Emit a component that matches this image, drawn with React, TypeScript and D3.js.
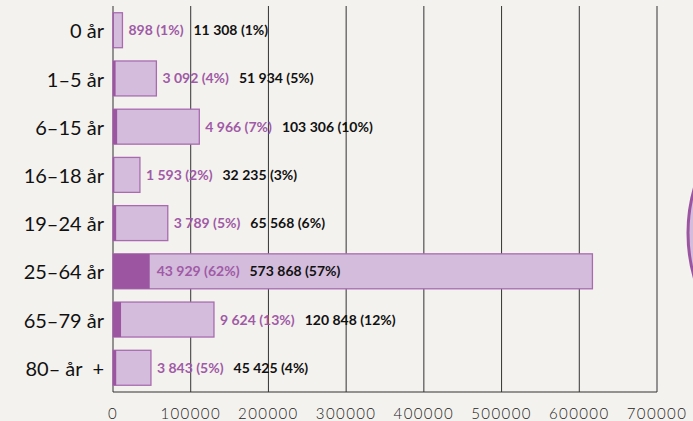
import React from "react";
import * as d3 from "d3";

const categories = ["0 år", "1–5 år", "6–15 år", "16–18 år", "19–24 år", "25–64 år", "65–79 år", "80– år  +"];
const totals = [11308, 51934, 103306, 32235, 65568, 573868, 120848, 45425];
const totalPct = [1, 5, 10, 3, 6, 57, 12, 4];
const subset = [898, 3092, 4966, 1593, 3789, 43929, 9624, 3843];
const subsetPct = [1, 4, 7, 2, 5, 62, 13, 5];
const ticks = [0, 100000, 200000, 300000, 400000, 500000, 600000, 700000];

const W = 693;
const H = 421;
const margin = { top: 6, right: 36, bottom: 29, left: 113 };

const fmt = (v: number) => d3.format(",")(v).replace(/,/g, " ");

export default function App() {
  const x = d3.scaleLinear().domain([0, 700000]).range([margin.left, W - margin.right]);
  // bars in the source run a little longer than the axis scale
  const xBar = d3.scaleLinear().domain([0, 700000 / 1.075]).range([margin.left, W - margin.right]);
  const y = d3
    .scaleBand()
    .domain(categories)
    .range([margin.top, H - margin.bottom])
    .paddingInner(0.275)
    .paddingOuter(0.14);

  return (
    <svg width={W} height={H} style={{ position: "absolute", left: 0, top: 0 }}>
      <rect width={W} height={H} fill="#f4f2ee" />
      <circle cx={850} cy={233} r={162} fill="#d4bcdc" stroke="#9c55a0" strokeWidth={3} />

      {ticks.map((t) => (
        <line key={t} x1={x(t)} x2={x(t)} y1={margin.top} y2={H - margin.bottom} stroke="#333" strokeWidth={1} />
      ))}
      <line x1={x(0)} x2={x(700000)} y1={H - margin.bottom} y2={H - margin.bottom} stroke="#333" strokeWidth={1.2} />

      {categories.map((c, i) => {
        const y0 = y(c)!;
        const bh = y.bandwidth();
        const long = xBar(totals[i]) - xBar(0) > 300;
        const lx = long ? xBar(subset[i]) + 7 : xBar(totals[i]) + 6;
        return (
          <g key={c}>
            <rect
              x={xBar(0)}
              y={y0}
              width={xBar(totals[i]) - xBar(0)}
              height={bh}
              fill="#d4bcdc"
              stroke="#a86bb0"
              strokeWidth={1.3}
            />
            <rect x={xBar(0)} y={y0} width={xBar(subset[i]) - xBar(0)} height={bh} fill="#9c55a0" />
            <text
              x={margin.left - 9}
              y={y0 + bh / 2 + 3}
              textAnchor="end"
              dominantBaseline="middle"
              fontFamily="Lato"
              fontSize={20}
              fill="#111"
              style={{ whiteSpace: "pre" }}
            >
              {c}
            </text>
            <text
              x={lx}
              y={y0 + bh / 2 + 1}
              dominantBaseline="middle"
              fontFamily="Lato"
              fontWeight={700}
              fontSize={14}
            >
              <tspan fill="#a05aa6">{`${fmt(subset[i])} (${subsetPct[i]}%)`}</tspan>
              <tspan dx={10} fill="#111">{`${fmt(totals[i])} (${totalPct[i]}%)`}</tspan>
            </text>
          </g>
        );
      })}

      {ticks.map((t) => (
        <text
          key={t}
          x={x(t)}
          y={H - 2}
          textAnchor="middle"
          fontFamily="Lato"
          fontWeight={300}
          fontSize={15}
          letterSpacing={1.4}
          fill="#222"
        >
          {t}
        </text>
      ))}
    </svg>
  );
}
